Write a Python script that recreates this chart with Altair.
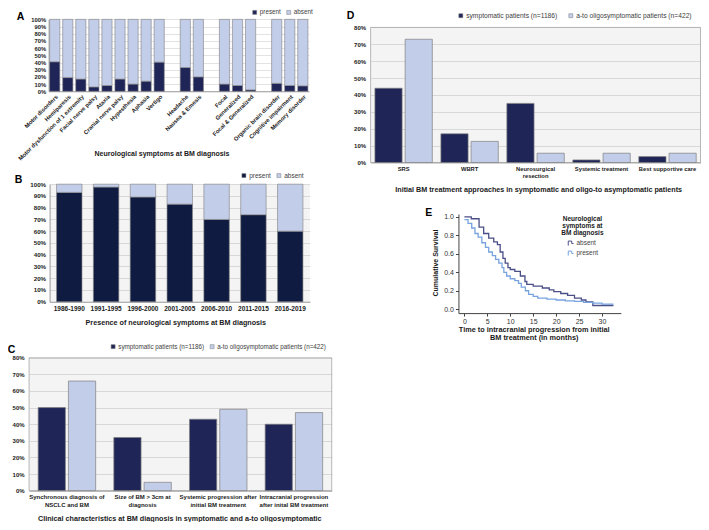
import altair as alt
import pandas as pd

W, H = 693, 514
def mx(x): return (x - 8) * 693 / 700
def my(y): return (y - 1) * 514 / 529

FONT = "Liberation Sans"

# ---------------- data ----------------
A_groups = [
    ["Motor disorders", "Hemiparesis", "Motor dysfunction of 1 extremity", "Facial nerve palsy",
     "Ataxia", "Cranial nerve palsy", "Hypesthesia", "Aphasia", "Vertigo"],
    ["Headache", "Nausea & Emesis"],
    ["Focal", "Generalized", "Focal & Generalized"],
    ["Organic brain disorder", "Cognitive impairment", "Memory disorder"],
]
A_present = [41, 19, 17, 6, 8, 17, 10, 14, 40.5, 33, 20, 10, 8, 2, 11, 8, 7.5]

B_periods = ["1986-1990", "1991-1995", "1996-2000", "2001-2005", "2006-2010", "2011-2015", "2016-2019"]
B_present = [93, 97.5, 89, 83, 70, 74, 60]

STATUS = ["present", "absent"]
GROUPS = ["symptomatic patients (n=1186)", "a-to oligosymptomatic patients (n=422)"]

C_cats = ["Synchronous diagnosis of|NSCLC and BM", "Size of BM > 3cm at|diagnosis",
          "Systemic progression after|initial BM treatment", "Intracranial progression|after inital BM treatment"]
C_sympt = [50, 32, 43, 40]
C_oligo = [66, 5, 49, 47]

D_cats = ["SRS", "WBRT", "Neurosurgical|resection", "Systemic treatment", "Best supportive care"]
D_sympt = [44, 17, 35, 1.5, 3.5]
D_oligo = [73, 12.5, 5.5, 5.5, 5.5]

E_labels = ["absent", "present"]
E_absent_t = [0, 1.5, 3.2, 4.2, 5.3, 6.4, 7.2, 7.8, 8.4, 8.9, 9.5, 10.0, 11.0, 12.2, 13.2, 13.6,
              15.0, 17.0, 18.5, 19.5, 21.0, 22.5, 24.0, 25.5, 26.5, 28.0, 32.5]
E_absent_s = [1.0, 0.98, 0.89, 0.82, 0.77, 0.73, 0.70, 0.62, 0.55, 0.50, 0.45, 0.43, 0.41, 0.36, 0.30, 0.27,
              0.25, 0.23, 0.21, 0.19, 0.17, 0.15, 0.12, 0.10, 0.08, 0.04, 0.04]
E_present_t = [0, 0.8, 1.6, 2.3, 3.0, 3.8, 4.6, 5.3, 6.1, 6.8, 7.5, 8.2, 8.6, 9.2, 10.0, 11.0, 11.8, 12.4,
               13.3, 14.0, 15.0, 16.0, 18.0, 20.0, 22.0, 24.0, 26.0, 28.0, 30.0, 32.5]
E_present_s = [0.97, 0.93, 0.88, 0.82, 0.78, 0.72, 0.67, 0.62, 0.58, 0.54, 0.50, 0.45, 0.40, 0.36, 0.33, 0.31,
               0.28, 0.24, 0.20, 0.16, 0.14, 0.12, 0.11, 0.10, 0.09, 0.085, 0.075, 0.065, 0.055, 0.055]

# ---------------- styles ----------------
DARK = "#1f2557"
DARKB = "#0f1b40"
LIGHT = "#c2cdea"
OUTLINE = "#7f7f7f"
AXIS_GRAY = "#8c8c8c"
TXT = "#1a1a1a"

def bar_legend(x, y, fs=6.3, colpad=4):
    return alt.Legend(orient="none", legendX=x, legendY=y, direction="horizontal", columns=2,
                      title=None, labelFontSize=fs, labelColor="#404040", symbolType="square",
                      symbolSize=16, symbolStrokeColor=OUTLINE, symbolStrokeWidth=0.5,
                      columnPadding=colpad, labelOffset=2, padding=0)

def letter(t, x, y):
    return alt.Chart(alt.Data(values=[{"t": t}])).mark_text(
        fontSize=10.5, fontWeight="bold", align="center", baseline="middle", color="#000"
    ).encode(text="t:N", x=alt.value(x), y=alt.value(y))

def bg(x0, x1, y0, y1, stroke=True):
    kw = dict(fill="black", fillOpacity=0.045)
    if stroke:
        kw.update(stroke="#a6a6a6", strokeWidth=0.8, strokeOpacity=1)
    return alt.Chart(alt.Data(values=[{}])).mark_rect(**kw).encode(
        x=alt.value(x0), x2=alt.value(x1), y=alt.value(y1), y2=alt.value(y0))

# ---------------- Panel A ----------------
A_order = []
for i, g in enumerate(A_groups):
    if i:
        A_order.append(" " * i)
    A_order.extend(g)
A_names = [n for g in A_groups for n in g]
a_rows = []
for n, p in zip(A_names, A_present):
    a_rows.append({"sym": n, "status": "present", "pct": p, "ord": 0})
    a_rows.append({"sym": n, "status": "absent", "pct": 100 - p, "ord": 1})
a_df = pd.DataFrame(a_rows)

ax0, ax1 = mx(49), mx(312)
ay0, ay1 = my(86.7), my(12.7)
panel_a = alt.Chart(a_df).mark_bar(stroke=OUTLINE, strokeWidth=0.6).encode(
    x=alt.X("sym:N", scale=alt.Scale(domain=A_order, range=[ax0, ax1], paddingInner=0.22, paddingOuter=0.08),
            axis=alt.Axis(orient="bottom", offset=-(H - ay0), labelAngle=-45, labelAlign="right",
                          labelBaseline="top", labelFontSize=5.8, labelFontWeight="bold", labelColor=TXT,
                          ticks=False, domainColor=AXIS_GRAY, domainWidth=0.8, grid=False, labelPadding=2,
                          labelOverlap=False, labelLimit=200,
                          title="Neurological symptoms at BM diagnosis", titleX=mx(163), titleY=my(151) - ay0,
                          titleFontSize=7, titleFontWeight="bold", titleAlign="center", titleBaseline="middle",
                          titleColor=TXT)),
    y=alt.Y("pct:Q", stack="zero", scale=alt.Scale(domain=[0, 100], range=[ay0, ay1], nice=False),
            axis=alt.Axis(orient="left", offset=-ax0, values=list(range(0, 101, 10)),
                          labelExpr="datum.value + '%'", labelFontSize=5.8, labelFontWeight="bold",
                          labelColor=TXT, ticks=False, domainColor=AXIS_GRAY, domainWidth=0.8,
                          grid=True, gridColor="#d0d0d0", gridWidth=0.6, title=None, labelPadding=3)),
    color=alt.Color("status:N", scale=alt.Scale(domain=STATUS, range=[DARK, LIGHT]),
                    legend=bar_legend(mx(254), my(2))),
    order=alt.Order("ord:Q"),
)

# ---------------- Panel B ----------------
b_rows = []
for n, p in zip(B_periods, B_present):
    b_rows.append({"per": n, "status": "present", "pct": p, "ord": 0})
    b_rows.append({"per": n, "status": "absent", "pct": 100 - p, "ord": 1})
b_df = pd.DataFrame(b_rows)
bx0, bx1 = mx(50), mx(313)
by0, by1 = my(303.3), my(182.3)
b_bars = alt.Chart(b_df).mark_bar(stroke=OUTLINE, strokeWidth=0.6).encode(
    x=alt.X("per:N", scale=alt.Scale(domain=B_periods, range=[bx0, bx1], paddingInner=0.31, paddingOuter=0.19),
            axis=alt.Axis(orient="bottom", offset=-(H - by0), labelAngle=0, labelFontSize=6.5,
                          labelFontWeight="bold", labelColor=TXT, ticks=False, domainColor=AXIS_GRAY,
                          domainWidth=0.8, grid=False, labelPadding=4,
                          title="Presence of neurological symptoms at BM diagnosis", titleX=mx(177),
                          titleY=my(325) - by0, titleFontSize=7.2, titleFontWeight="bold",
                          titleAlign="center", titleBaseline="middle", titleColor=TXT)),
    y=alt.Y("pct:Q", stack="zero", scale=alt.Scale(domain=[0, 100], range=[by0, by1], nice=False),
            axis=alt.Axis(orient="left", offset=-bx0, values=list(range(0, 101, 10)),
                          labelExpr="datum.value + '%'", labelFontSize=6.2, labelFontWeight="bold",
                          labelColor=TXT, ticks=False, domainColor=AXIS_GRAY, domainWidth=0.8,
                          grid=True, gridColor="#cfcfcf", gridWidth=0.6, title=None, labelPadding=4)),
    color=alt.Color("status:N", scale=alt.Scale(domain=STATUS, range=[DARKB, LIGHT]),
                    legend=bar_legend(mx(243), my(170), fs=6.5)),
    order=alt.Order("ord:Q"),
)
panel_b = alt.layer(bg(bx0, bx1, by0, by1, stroke=False), b_bars)

# ---------------- grouped bar helper (C, D) ----------------
def grouped(cats, v1, v2, x0, x1, y0, y1, pin, pout, leg, title, tx, ty, lfs):
    rows = []
    for c, a, b in zip(cats, v1, v2):
        rows.append({"cat": c, "grp": GROUPS[0], "pct": a})
        rows.append({"cat": c, "grp": GROUPS[1], "pct": b})
    df = pd.DataFrame(rows)
    bars = alt.Chart(df).mark_bar(stroke=OUTLINE, strokeWidth=0.7).encode(
        x=alt.X("cat:N", scale=alt.Scale(domain=cats, range=[x0, x1], paddingInner=pin, paddingOuter=pout),
                axis=alt.Axis(orient="bottom", offset=-(H - y0), labelAngle=0,
                              labelExpr="split(datum.label, '|')", labelFontSize=lfs, labelLineHeight=lfs + 1.6,
                              labelFontWeight="bold", labelColor=TXT, ticks=False, domainColor="#a6a6a6",
                              grid=False, labelPadding=3, labelBaseline="top",
                              title=title, titleX=tx, titleY=ty - y0, titleFontSize=7.2,
                              titleFontWeight="bold", titleAlign="center", titleBaseline="middle",
                              titleColor=TXT)),
        xOffset=alt.XOffset("grp:N", scale=alt.Scale(domain=GROUPS, paddingInner=0.1, paddingOuter=0)),
        y=alt.Y("pct:Q", scale=alt.Scale(domain=[0, 80], range=[y0, y1], nice=False),
                axis=alt.Axis(orient="left", offset=-x0, values=list(range(0, 81, 10)),
                              labelExpr="datum.value + '%'", labelFontSize=6, labelFontWeight="bold",
                              labelColor=TXT, ticks=False, domain=False,
                              grid=True, gridColor="#d6d6d6", gridWidth=0.7, title=None, labelPadding=5)),
        color=alt.Color("grp:N", scale=alt.Scale(domain=GROUPS, range=[DARK, LIGHT]), legend=leg),
    )
    return alt.layer(bg(x0, x1, y0, y1), bars)

cx0, cx1 = mx(29.3), mx(335)
cy0, cy1 = my(497.7), my(361)
panel_c = grouped(C_cats, C_sympt, C_oligo, cx0, cx1, cy0, cy1, 0.24, 0.12,
                  bar_legend(mx(111), my(346), fs=6.3, colpad=4),
                  "Clinical characteristics at BM diagnosis in symptomatic and a-to oligosymptomatic",
                  mx(181), my(526.5), 6)

dx0, dx1 = mx(374.3), min(mx(708.3), W - 0.5)
dy0, dy1 = my(160), my(21)
panel_d = grouped(D_cats, D_sympt, D_oligo, dx0, dx1, dy0, dy1, 0.13, 0.065,
                  bar_legend(mx(462), my(5), fs=6.7, colpad=10),
                  "Initial BM treatment approaches in symptomatic and oligo-to asymptomatic patients",
                  mx(543.5), my(187.7), 5.8)

# ---------------- Panel E ----------------
e_rows = []
for t, s in zip(E_absent_t, E_absent_s):
    e_rows.append({"t": t, "s": s, "g": E_labels[0]})
for t, s in zip(E_present_t, E_present_s):
    e_rows.append({"t": t, "s": s, "g": E_labels[1]})
e_df = pd.DataFrame(e_rows)

ex0, ex1 = mx(463), mx(627)
tx0, tx30 = mx(469), mx(608)
ppm = (tx30 - tx0) / 30
ey0, ey1 = my(315), my(213)
sy0, sy1 = my(311), my(216)
ppu = sy0 - sy1
e_xdom = [(ex0 - tx0) / ppm, (ex1 - tx0) / ppm]
e_ydom = [-(ey0 - sy0) / ppu, 1 + (sy1 - ey1) / ppu]

step_sym = "M -1 1 L -1 -0.7 L 0.3 -0.7 L 0.3 0.2 L 1 0.2"
panel_e = alt.Chart(e_df).mark_line(interpolate="step-after", strokeWidth=1.3).encode(
    x=alt.X("t:Q", scale=alt.Scale(domain=e_xdom, range=[ex0, ex1], nice=False, zero=False),
            axis=alt.Axis(orient="bottom", offset=-(H - ey0), values=[0, 5, 10, 15, 20, 25, 30],
                          labelFontSize=7, labelColor="#333", tickSize=3, tickColor="#444",
                          domainColor="#444", grid=False, labelPadding=1,
                          title=["Time to intracranial progression from initial", "BM treatment (in months)"],
                          titleX=mx(539), titleY=my(327.5) - ey0, titleFontSize=7.3, titleFontWeight="bold",
                          titleAlign="center", titleBaseline="top", titleLineHeight=8, titleColor=TXT)),
    y=alt.Y("s:Q", scale=alt.Scale(domain=e_ydom, range=[ey0, ey1], nice=False, zero=False),
            axis=alt.Axis(orient="left", offset=-ex0, values=[0, 0.2, 0.4, 0.6, 0.8, 1.0], format=".1f",
                          labelFontSize=7, labelColor="#333", tickSize=3, tickColor="#444",
                          domainColor="#444", grid=False, labelPadding=2,
                          title="Cumulative Survival", titleX=mx(440) - ex0, titleY=my(263),
                          titleFontSize=7, titleFontWeight="bold", titleAngle=-90, titleAlign="center",
                          titleBaseline="middle", titleColor=TXT)),
    color=alt.Color("g:N", scale=alt.Scale(domain=E_labels, range=["#4b4f87", "#77a3df"]),
                    legend=alt.Legend(orient="none", legendX=mx(567), legendY=my(215),
                                      title=["Neurological", "symptoms at", "BM diagnosis"],
                                      titleFontSize=6.5, titleFontWeight="bold", titleColor=TXT,
                                      titleAnchor="middle", titleAlign="center", titleLineHeight=7,
                                      titlePadding=3, labelFontSize=6.5, labelColor="#444",
                                      symbolType=step_sym, symbolSize=28, symbolStrokeWidth=1,
                                      rowPadding=0, labelOffset=2, padding=0)),
    detail="g:N",
)

chart = alt.layer(
    panel_a, panel_b, panel_c, panel_d, panel_e,
    letter("A", mx(20.7), my(10)),
    letter("B", mx(18.7), my(178.3)),
    letter("C", mx(11.7), my(353)),
    letter("D", mx(354), 7.5),
    letter("E", mx(433), my(212)),
).resolve_scale(
    x="independent", y="independent", color="independent", xOffset="independent"
).resolve_axis(
    x="independent", y="independent"
).resolve_legend(
    color="independent"
).properties(
    width=W, height=H, autosize=alt.AutoSizeParams(type="none"), padding=0
).configure(
    font=FONT
).configure_view(
    strokeWidth=0
)

chart.save("out.html", embed_options={"renderer": "svg", "actions": False})
